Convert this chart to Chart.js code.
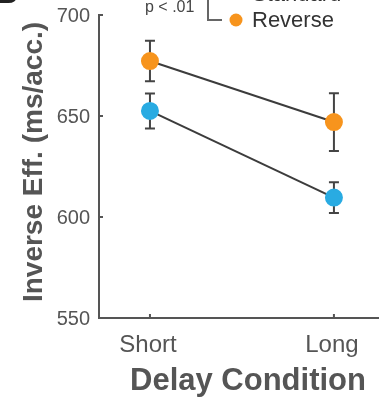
<!DOCTYPE html>
<html>
<head>
<meta charset="utf-8">
<script src="https://cdn.jsdelivr.net/npm/chart.js@4"></script>
<style>
  html, body { margin: 0; padding: 0; background: #fff; }
  #wrap { width: 379px; height: 406px; }
</style>
</head>
<body>
<div id="wrap"><canvas id="chart" width="379" height="406"></canvas></div>
<script>
// données
const categories = ["Short", "Long"];
const standardMeans = [652.5, 609.6];
const standardErr = [8.7, 7.6];
const reverseMeans = [677.2, 647.0];
const reverseErr = [10.0, 14.3];
const yTicks = [550, 600, 650, 700];

const gray = "#555555";
const font = "'Liberation Sans', Arial, sans-serif";

function toPoints(means) {
  return means.map((v, i) => ({ x: i, y: v }));
}

// barres d'erreur, ticks vers l'intérieur, étiquettes et textes
const extras = {
  id: "extras",
  beforeDatasetsDraw(chart) {
    const { ctx, scales } = chart;
    ctx.save();
    ctx.strokeStyle = "#444";
    ctx.lineWidth = 2;
    [[standardMeans, standardErr], [reverseMeans, reverseErr]].forEach(([m, e]) => {
      m.forEach((v, i) => {
        const x = scales.x.getPixelForValue(i);
        const top = scales.y.getPixelForValue(v + e[i]);
        const bot = scales.y.getPixelForValue(v - e[i]);
        ctx.beginPath();
        ctx.moveTo(x, top); ctx.lineTo(x, bot);
        ctx.moveTo(x - 5, top); ctx.lineTo(x + 5, top);
        ctx.moveTo(x - 5, bot); ctx.lineTo(x + 5, bot);
        ctx.stroke();
      });
    });
    ctx.restore();
  },
  afterDraw(chart) {
    const { ctx, scales, chartArea } = chart;
    ctx.save();
    ctx.strokeStyle = gray;
    ctx.lineWidth = 2;
    ctx.beginPath();
    yTicks.forEach(t => {
      const y = scales.y.getPixelForValue(t);
      ctx.moveTo(chartArea.left, y); ctx.lineTo(chartArea.left + 4, y);
    });
    categories.forEach((c, i) => {
      const x = scales.x.getPixelForValue(i);
      ctx.moveTo(x, chartArea.bottom); ctx.lineTo(x, chartArea.bottom - 4);
    });
    ctx.stroke();

    // étiquettes des axes
    ctx.fillStyle = gray;
    ctx.font = "20px " + font;
    ctx.textAlign = "right";
    ctx.textBaseline = "middle";
    yTicks.forEach(t => {
      ctx.fillText(String(t), chartArea.left - 9, scales.y.getPixelForValue(t) + 1);
    });
    ctx.font = "24px " + font;
    ctx.textAlign = "center";
    ctx.textBaseline = "alphabetic";
    categories.forEach((c, i) => {
      ctx.fillText(c, scales.x.getPixelForValue(i) - 2, 352);
    });

    // titres
    ctx.font = "bold 31px " + font;
    ctx.fillText("Delay Condition", 248, 390);

    ctx.save();
    ctx.translate(42, 162);
    ctx.rotate(-Math.PI / 2);
    ctx.font = "bold 28px " + font;
    ctx.fillText("Inverse Eff. (ms/acc.)", 0, 0);
    ctx.restore();

    // lettre du panneau (coupée)
    ctx.fillStyle = "#222";
    ctx.textAlign = "left";
    ctx.font = "bold 30px " + font;
    ctx.fillText("B", -4, 3);

    // légende
    ctx.font = "22px " + font;
    ctx.fillStyle = "#333";
    ctx.textBaseline = "middle";
    ctx.fillText("Standard", 252, -5);
    ctx.fillText("Reverse", 252, 21);
    ctx.fillStyle = "#29ABE2";
    ctx.beginPath(); ctx.arc(236, -7, 6.5, 0, Math.PI * 2); ctx.fill();
    ctx.fillStyle = "#F7941D";
    ctx.beginPath(); ctx.arc(236, 20, 6.5, 0, Math.PI * 2); ctx.fill();

    // crochet de significativité
    ctx.strokeStyle = "#666";
    ctx.lineWidth = 2;
    ctx.beginPath();
    ctx.moveTo(208, 0); ctx.lineTo(208, 20); ctx.lineTo(222, 20);
    ctx.stroke();
    ctx.fillStyle = "#444";
    ctx.font = "16px " + font;
    ctx.textBaseline = "alphabetic";
    ctx.fillText("p < .01", 145, 12);
    ctx.restore();
  }
};

new Chart(document.getElementById("chart"), {
  type: "line",
  data: {
    datasets: [
      {
        label: "Standard",
        data: toPoints(standardMeans),
        borderColor: "#3c3c3c",
        borderWidth: 2,
        pointBackgroundColor: "#29ABE2",
        pointBorderColor: "#29ABE2",
        pointRadius: 8,
        fill: false,
      },
      {
        label: "Reverse",
        data: toPoints(reverseMeans),
        borderColor: "#3c3c3c",
        borderWidth: 2,
        pointBackgroundColor: "#F7941D",
        pointBorderColor: "#F7941D",
        pointRadius: 8,
        fill: false,
      },
    ],
  },
  options: {
    responsive: false,
    animation: false,
    layout: { autoPadding: false, padding: { top: 15, left: 0, right: 0, bottom: 0 } },
    plugins: { legend: { display: false }, tooltip: { enabled: false } },
    scales: {
      x: {
        type: "linear",
        min: -0.277,
        max: 1.245,
        afterBuildTicks: s => { s.ticks = categories.map((c, i) => ({ value: i })); },
        afterFit: s => { s.height = 88; },
        grid: { display: false },
        border: { display: true, color: gray, width: 2 },
        ticks: { display: false },
      },
      y: {
        min: 550,
        max: 700,
        afterBuildTicks: s => { s.ticks = yTicks.map(v => ({ value: v })); },
        afterFit: s => { s.width = 99; },
        grid: { display: false },
        border: { display: true, color: gray, width: 2 },
        ticks: { display: false },
      },
    },
  },
  plugins: [extras],
});
</script>
</body>
</html>
